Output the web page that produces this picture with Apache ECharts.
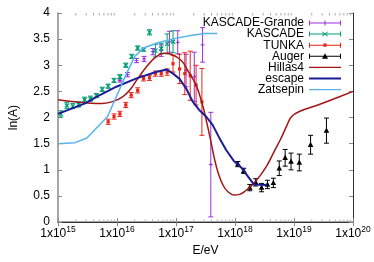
<!DOCTYPE html>
<html><head><meta charset="utf-8">
<script src="https://cdn.jsdelivr.net/npm/echarts@6/dist/echarts.min.js"></script>
<style>html,body{margin:0;padding:0;background:#fff}#c{width:374px;height:262px}</style>
</head><body><div id="c"></div>
<script>
// ---- data ----
var kgE   = [1.12e16,1.51e16,2.14e16,2.88e16,4.07e16,5.62e16,7.76e16,1.07e17,1.48e17,2.04e17,2.82e17,3.89e17];
var kgY   = [2.71,2.82,3.09,3.12,3.26,3.28,3.45,3.44,2.90,2.78,3.39,1.10];
var kgErr = [0.03,0.04,0.04,0.05,0.06,0.11,0.20,0.22,0.31,0.47,0.33,1.00];

var kaE   = [1.12e15,1.41e15,1.78e15,2.24e15,2.82e15,3.55e15,4.47e15,5.62e15,7.08e15,8.91e15,1.12e16,1.41e16,1.78e16,2.24e16,2.82e16,3.55e16,4.47e16,5.62e16,7.08e16,8.91e16];
var kaY   = [2.07,2.23,2.22,2.25,2.34,2.36,2.42,2.54,2.60,2.71,2.78,3.00,3.17,3.33,3.30,3.63,3.28,3.32,3.41,3.45];
var kaErr = [0.06,0.06,0.05,0.05,0.05,0.05,0.04,0.04,0.04,0.04,0.04,0.04,0.04,0.04,0.03,0.05,0.12,0.10,0.19,0.21];

var tuE   = [7.08e15,8.91e15,1.12e16,1.41e16,1.74e16,2.24e16,2.82e16,3.55e16,4.47e16,5.62e16,7.08e16,8.91e16,1.15e17,1.41e17,1.74e17,2.19e17,2.75e17];
var tuY   = [1.92,2.02,2.07,2.24,2.43,2.52,2.75,2.76,2.84,2.84,2.87,3.03,2.93,2.84,2.80,2.62,2.30];
var tuErr = [0.05,0.05,0.05,0.05,0.05,0.05,0.05,0.05,0.05,0.05,0.06,0.16,0.28,0.40,0.47,0.38,0.64];

var auE   = [1.12e18,1.41e18,1.78e18,2.24e18,2.82e18,3.55e18,4.47e18,5.62e18,7.08e18,8.91e18,1.23e19,1.91e19,3.55e19];
var auY   = [1.11,0.98,0.66,0.76,0.66,0.72,0.75,1.03,1.23,1.16,1.14,1.48,1.75];
var auErr = [0.05,0.05,0.06,0.07,0.08,0.08,0.09,0.14,0.16,0.16,0.16,0.18,0.24];

var hiE = [1e15,2.0e15,3.16e15,5.62e15,8.71e15,1.26e16,1.66e16,2.14e16,3.16e16,4.57e16,6.31e16,8.32e16,1.23e17,1.58e17,2.19e17,2.82e17,3.39e17,3.89e17,4.47e17,5.25e17,6.31e17,7.59e17,9.55e17,1.2e18,1.51e18,2.0e18,2.63e18,3.47e18,4.47e18,5.89e18,7.59e18,9.12e18,1.26e19,2.4e19,4.57e19,1e20];
var hiY = [2.34,2.30,2.28,2.27,2.31,2.40,2.53,2.71,2.97,3.16,3.23,3.21,3.09,2.90,2.62,2.24,1.86,1.55,1.22,0.92,0.70,0.58,0.52,0.53,0.60,0.72,0.88,1.08,1.32,1.58,1.85,2.02,2.12,2.23,2.35,2.50];

var esE = [1e15,2.88e15,4.57e15,9.77e15,2.14e16,4.57e16,6.92e16,8.91e16,1.15e17,1.48e17,1.91e17,2.45e17,3.24e17,4.17e17,5.37e17,7.08e17,9.55e17,1.26e18,2.09e18,3.47e18];
var esY = [2.07,2.27,2.40,2.59,2.75,2.87,2.92,2.84,2.74,2.56,2.31,2.15,2.02,1.86,1.62,1.38,1.17,1.05,0.72,0.71];

var zaE = [1e15,1.95e15,3.09e15,6.92e15,1.45e16,2.0e16,2.82e16,4.9e16,9.33e16,1.78e17,3.02e17,5.01e17];
var zaY = [1.50,1.52,1.61,2.02,2.84,3.17,3.33,3.43,3.51,3.57,3.61,3.61];

var seriesNames = ['KASCADE-Grande','KASCADE','TUNKA','Auger','Hillas4','escape','Zatsepin'];
var minorMantissa = [2,3,4,5,6,7,8,9];
var decades = [1e15,1e16,1e17,1e18,1e19];

// ---- build ----
function zip3(a,b,c){return a.map(function(v,i){return [v,b[i],c[i]];});}
function zip2(a,b){return a.map(function(v,i){return [v,b[i]];});}
var minorVals=[];
decades.forEach(function(d){minorMantissa.forEach(function(m){minorVals.push([m*d]);});});

function errRender(marker){
  return function(params, api){
    var x=api.value(0), y=api.value(1), e=api.value(2);
    var p=api.coord([x,y]), hi=api.coord([x,y+e]), lo=api.coord([x,y-e]);
    var c=api.visual('color'); var cap=2.5; var st={stroke:c,lineWidth:1};
    var ch=[
      {type:'line',shape:{x1:p[0],y1:hi[1],x2:p[0],y2:lo[1]},style:st},
      {type:'line',shape:{x1:p[0]-cap,y1:hi[1],x2:p[0]+cap,y2:hi[1]},style:st},
      {type:'line',shape:{x1:p[0]-cap,y1:lo[1],x2:p[0]+cap,y2:lo[1]},style:st}
    ];
    var s=2;
    if(marker==='plus'){
      ch.push({type:'line',shape:{x1:p[0]-s,y1:p[1],x2:p[0]+s,y2:p[1]},style:st});
      ch.push({type:'line',shape:{x1:p[0],y1:p[1]-s,x2:p[0],y2:p[1]+s},style:st});
    } else if(marker==='cross'){
      ch.push({type:'line',shape:{x1:p[0]-s,y1:p[1]-s,x2:p[0]+s,y2:p[1]+s},style:{stroke:c,lineWidth:1.2}});
      ch.push({type:'line',shape:{x1:p[0]-s,y1:p[1]+s,x2:p[0]+s,y2:p[1]-s},style:{stroke:c,lineWidth:1.2}});
    } else if(marker==='square'){
      ch.push({type:'rect',shape:{x:p[0]-1.6,y:p[1]-1.6,width:3.2,height:3.2},style:{fill:c}});
    } else if(marker==='tri'){
      ch.push({type:'polygon',shape:{points:[[p[0],p[1]-3],[p[0]+2.8,p[1]+2.2],[p[0]-2.8,p[1]+2.2]]},style:{fill:c}});
    }
    return {type:'group',children:ch};
  };
}
function minorRender(params, api){
  var v=api.value(0);
  var b=api.coord([v,0]), t=api.coord([v,4]);
  var st={stroke:'#aaa',lineWidth:1};
  return {type:'group',children:[
    {type:'line',shape:{x1:b[0],y1:b[1],x2:b[0],y2:b[1]-2.5},style:st},
    {type:'line',shape:{x1:t[0],y1:t[1],x2:t[0],y2:t[1]+2.5},style:st}
  ]};
}

var B='M0,0L0,0ZM32,8L32,8Z';
var errIcon='M0,3.5H32V4.5H0ZM0,1.5H1V6.5H0ZM31,1.5H32V6.5H31Z';
var icons={
  'KASCADE-Grande':'path://'+B+errIcon+'M15.5,1.5H16.5V6.5H15.5ZM13.5,3.5H18.5V4.5H13.5Z',
  'KASCADE':'path://'+B+errIcon+'M13.5,1.5L16,3.3L18.5,1.5L19,2L16.7,4L19,6L18.5,6.5L16,4.7L13.5,6.5L13,6L15.3,4L13,2Z',
  'TUNKA':'path://'+B+errIcon+'M14.4,2.4H17.6V5.6H14.4Z',
  'Auger':'path://'+B+errIcon+'M16,1L19,6.5H13Z',
  'Hillas4':'path://'+B+'M0,3.3H32V4.7H0Z',
  'escape':'path://'+B+'M0,3H32V5H0Z',
  'Zatsepin':'path://'+B+'M0,3.3H32V4.7H0Z'
};

var FONT='"Liberation Sans", Arial, sans-serif';
var chart=echarts.init(document.getElementById('c'),null,{renderer:'canvas'});
var xLabel={
  margin:3,
  formatter:function(v){return '{a|1x10}{b|'+Math.round(Math.log10(v))+'}';},
  rich:{a:{fontSize:12,lineHeight:18,color:'#000',fontFamily:FONT},b:{fontSize:8.5,lineHeight:9,verticalAlign:'top',color:'#000',fontFamily:FONT}}
};
chart.setOption({
  animation:false,
  textStyle:{fontFamily:FONT},
  grid:{left:56,right:21,top:13,bottom:37},
  legend:{
    orient:'vertical',right:33,top:17,padding:0,align:'right',
    itemWidth:32,itemHeight:8,itemGap:-0.9,
    textStyle:{fontSize:12,color:'#000',lineHeight:11,fontFamily:FONT},
    data:seriesNames.map(function(n){return {name:n,icon:icons[n]};})
  },
  xAxis:[
    {type:'log',logBase:10,min:1e15,max:1e20,splitNumber:5,position:'bottom',
     axisLine:{show:true,lineStyle:{color:'#888',width:1.5}},
     axisTick:{show:true,inside:true,length:4,lineStyle:{color:'#888'}},
     axisLabel:xLabel,splitLine:{show:false},
     name:'E/eV',nameLocation:'middle',nameGap:20,nameTextStyle:{fontSize:12,color:'#000'}},
    {type:'log',logBase:10,min:1e15,max:1e20,splitNumber:5,position:'top',
     axisLine:{show:true,lineStyle:{color:'#333',width:1}},
     axisTick:{show:true,inside:true,length:4,lineStyle:{color:'#888'}},
     axisLabel:{show:false},splitLine:{show:false}}
  ],
  yAxis:[
    {type:'value',min:0,max:4,interval:0.5,
     axisLine:{show:true,lineStyle:{color:'#888',width:1.5}},
     axisTick:{show:true,inside:true,length:4,lineStyle:{color:'#888'}},
     axisLabel:{fontSize:12,color:'#000',margin:8},splitLine:{show:false},
     name:'ln(A)',nameLocation:'middle',nameGap:38,nameRotate:90,nameTextStyle:{fontSize:12,color:'#000'}},
    {type:'value',min:0,max:4,interval:0.5,position:'right',
     axisLine:{show:true,lineStyle:{color:'#333',width:1}},
     axisTick:{show:true,inside:true,length:4,lineStyle:{color:'#888'}},
     axisLabel:{show:false},splitLine:{show:false}}
  ],
  series:[
    {type:'custom',name:'minor',renderItem:minorRender,data:minorVals,encode:{x:0},silent:true},
    {type:'custom',name:'KASCADE-Grande',color:'#9b30e0',itemStyle:{color:'#9b30e0'},renderItem:errRender('plus'),data:zip3(kgE,kgY,kgErr),encode:{x:0,y:1}},
    {type:'custom',name:'KASCADE',color:'#009e73',itemStyle:{color:'#009e73'},renderItem:errRender('cross'),data:zip3(kaE,kaY,kaErr),encode:{x:0,y:1}},
    {type:'custom',name:'TUNKA',color:'#e8251a',itemStyle:{color:'#e8251a'},renderItem:errRender('square'),data:zip3(tuE,tuY,tuErr),encode:{x:0,y:1}},
    {type:'custom',name:'Auger',color:'#000000',itemStyle:{color:'#000000'},renderItem:errRender('tri'),data:zip3(auE,auY,auErr),encode:{x:0,y:1}},
    {type:'line',name:'Hillas4',color:'#a31515',itemStyle:{color:'#a31515'},data:zip2(hiE,hiY),showSymbol:false,smooth:0.4,lineStyle:{color:'#a31515',width:1.5}},
    {type:'line',name:'escape',color:'#1c1c96',itemStyle:{color:'#1c1c96'},data:zip2(esE,esY),showSymbol:false,lineStyle:{color:'#1c1c96',width:2}},
    {type:'line',name:'Zatsepin',color:'#56b4e9',itemStyle:{color:'#56b4e9'},data:zip2(zaE,zaY),showSymbol:false,lineStyle:{color:'#56b4e9',width:1.5}}
  ]
});
</script></body></html>
